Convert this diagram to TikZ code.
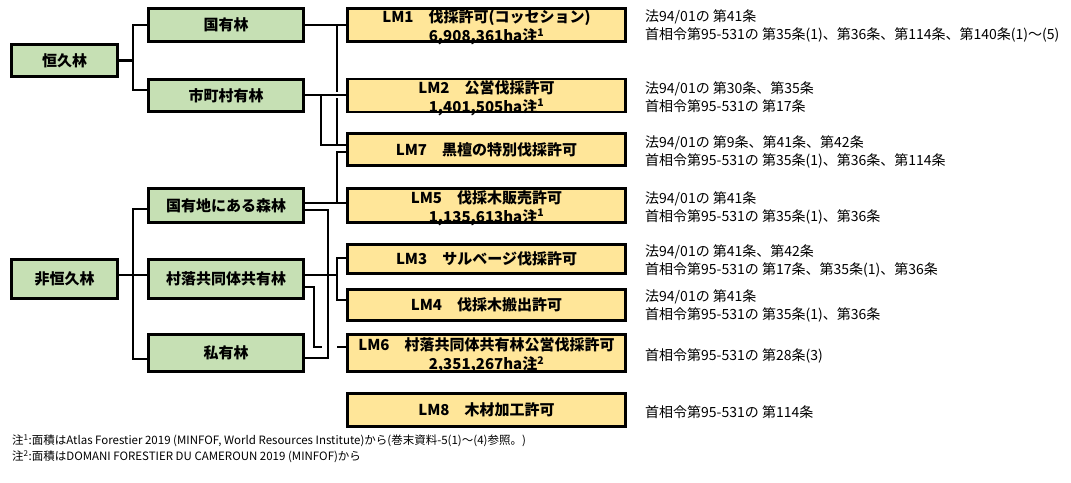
\documentclass[tikz,border=0pt]{standalone}
\usepackage{fontspec}
\setmainfont{Noto Sans CJK JP}
\definecolor{gfill}{HTML}{C6E0B4}
\definecolor{yfill}{HTML}{FFE699}
\tikzset{
  boxbase/.style={draw, line width=2.6pt, inner sep=0pt, align=center,
    font=\fontsize{15}{19}\selectfont\bfseries},
  gbox/.style={boxbase, fill=gfill},
  ybox/.style={boxbase, fill=yfill, minimum width=278.4pt},
  twolines/.style={text height=33pt, text depth=0pt},
  ln/.style={line width=2.2pt, line join=miter},
  rt/.style={anchor=west, align=left, inner sep=0pt, font=\fontsize{14}{18}\selectfont},
  fn/.style={anchor=west, inner sep=0pt, font=\fontsize{11.5}{14}\selectfont}
}
\begin{document}
\begin{tikzpicture}[x=1pt,y=-1pt]
\useasboundingbox (0,0) rectangle (1071,482);
% green boxes
\node[gbox, minimum width=106.4pt, minimum height=32.4pt] (p1) at (64.5,60.5) {恒久林};
\node[gbox, minimum width=106.4pt, minimum height=39.4pt] (p2) at (64.5,279) {非恒久林};
\node[gbox, minimum width=155.4pt, minimum height=33.4pt] (g1) at (226,25) {国有林};
\node[gbox, minimum width=155.4pt, minimum height=32.4pt] (g2) at (226,95.5) {市町村有林};
\node[gbox, minimum width=155.4pt, minimum height=34.4pt] (g3) at (226,205.5) {国有地にある森林};
\node[gbox, minimum width=155.4pt, minimum height=39.4pt] (g4) at (226,279) {村落共同体共有林};
\node[gbox, minimum width=155.4pt, minimum height=37.4pt] (g5) at (226,353) {私有林};
% yellow boxes
\node[ybox, twolines, minimum height=33.4pt] (lm1) at (486.5,25) {LM1　伐採許可(コッセション)\\6,908,361ha注\textsuperscript{1}};
\node[ybox, twolines, minimum height=32.4pt] (lm2) at (486.5,95.5) {LM2　公営伐採許可\\1,401,505ha注\textsuperscript{1}};
\node[ybox, minimum height=32.4pt] (lm7) at (486.5,149.5) {LM7　黒檀の特別伐採許可};
\node[ybox, twolines, minimum height=34.4pt] (lm5) at (486.5,205.5) {LM5　伐採木販売許可\\1,135,613ha注\textsuperscript{1}};
\node[ybox, minimum height=29.4pt] (lm3) at (486.5,259) {LM3　サルベージ伐採許可};
\node[ybox, minimum height=31.4pt] (lm4) at (486.5,305) {LM4　伐採木搬出許可};
\node[ybox, twolines, minimum height=37.4pt] (lm6) at (486.5,353) {LM6　村落共同体共有林公営伐採許可\\2,351,267ha注\textsuperscript{2}};
\node[ybox, minimum height=33.4pt] (lm8) at (486.5,410) {LM8　木材加工許可};
% left connectors
\draw[ln] (p1.east) -- (p1.east -| 133,0);
\draw[ln] (g1.west) -| (133,90) -- (g2.west |- 0,90);
\draw[ln] (g3.west |- 0,209) -| (133,359) -- (g5.west |- 0,359);
\draw[ln] (p2.east |- 0,275) -- (g4.west |- 0,275);
% middle connectors
\draw[ln] (g1.east) -- (lm1.west);
\draw[ln] (g1.east -| 337,0) -- (337,92);
\draw[ln] (337,98) -- (337,145) -- (lm7.west |- 0,145);
\draw[ln] (g2.east |- 0,95) -- (lm2.west |- 0,95);
\draw[ln] (321,95) -- (321,145) -- (337,145);
\draw[ln] (g3.east |- 0,203) -- (lm5.west |- 0,203);
\draw[ln] (337,203) -- (337,152) -- (lm7.west |- 0,152);
\draw[ln] (g3.east |- 0,210) -| (328,358) -- (g5.east |- 0,358);
\draw[ln] (g4.east |- 0,275) -- (337,275);
\draw[ln] (lm3.west |- 0,258) -| (337,300) -- (lm4.west |- 0,300);
\draw[ln] (g4.east |- 0,287) -| (314,347) -- (322,347);
\draw[ln] (337,347) -- (lm6.west |- 0,347);
% right texts
\node[rt] (r1) at (645,26) {法94/01の 第41条\\首相令第95-531の 第35条(1)、第36条、第114条、第140条(1)～(5)};
\node[rt] (r2) at (645,97) {法94/01の 第30条、第35条\\首相令第95-531の 第17条};
\node[rt] (r7) at (645,152) {法94/01の 第9条、第41条、第42条\\首相令第95-531の 第35条(1)、第36条、第114条};
\node[rt] (r5) at (645,208) {法94/01の 第41条\\首相令第95-531の 第35条(1)、第36条};
\node[rt] (r3) at (645,260.5) {法94/01の 第41条、第42条\\首相令第95-531の 第17条、第35条(1)、第36条};
\node[rt] (r4) at (645,305.5) {法94/01の 第41条\\首相令第95-531の 第35条(1)、第36条};
\node[rt] (r6) at (645,356) {首相令第95-531の 第28条(3)};
\node[rt] (r8) at (645,412) {首相令第95-531の 第114条};
% footnotes
\node[fn] (f1) at (12,441) {注\textsuperscript{1}:面積はAtlas Forestier 2019 (MINFOF, World Resources Institute)から(巻末資料-5(1)～(4)参照。)};
\node[fn] (f2) at (12,457) {注\textsuperscript{2}:面積はDOMANI FORESTIER DU CAMEROUN 2019 (MINFOF)から};
\end{tikzpicture}
\end{document}
